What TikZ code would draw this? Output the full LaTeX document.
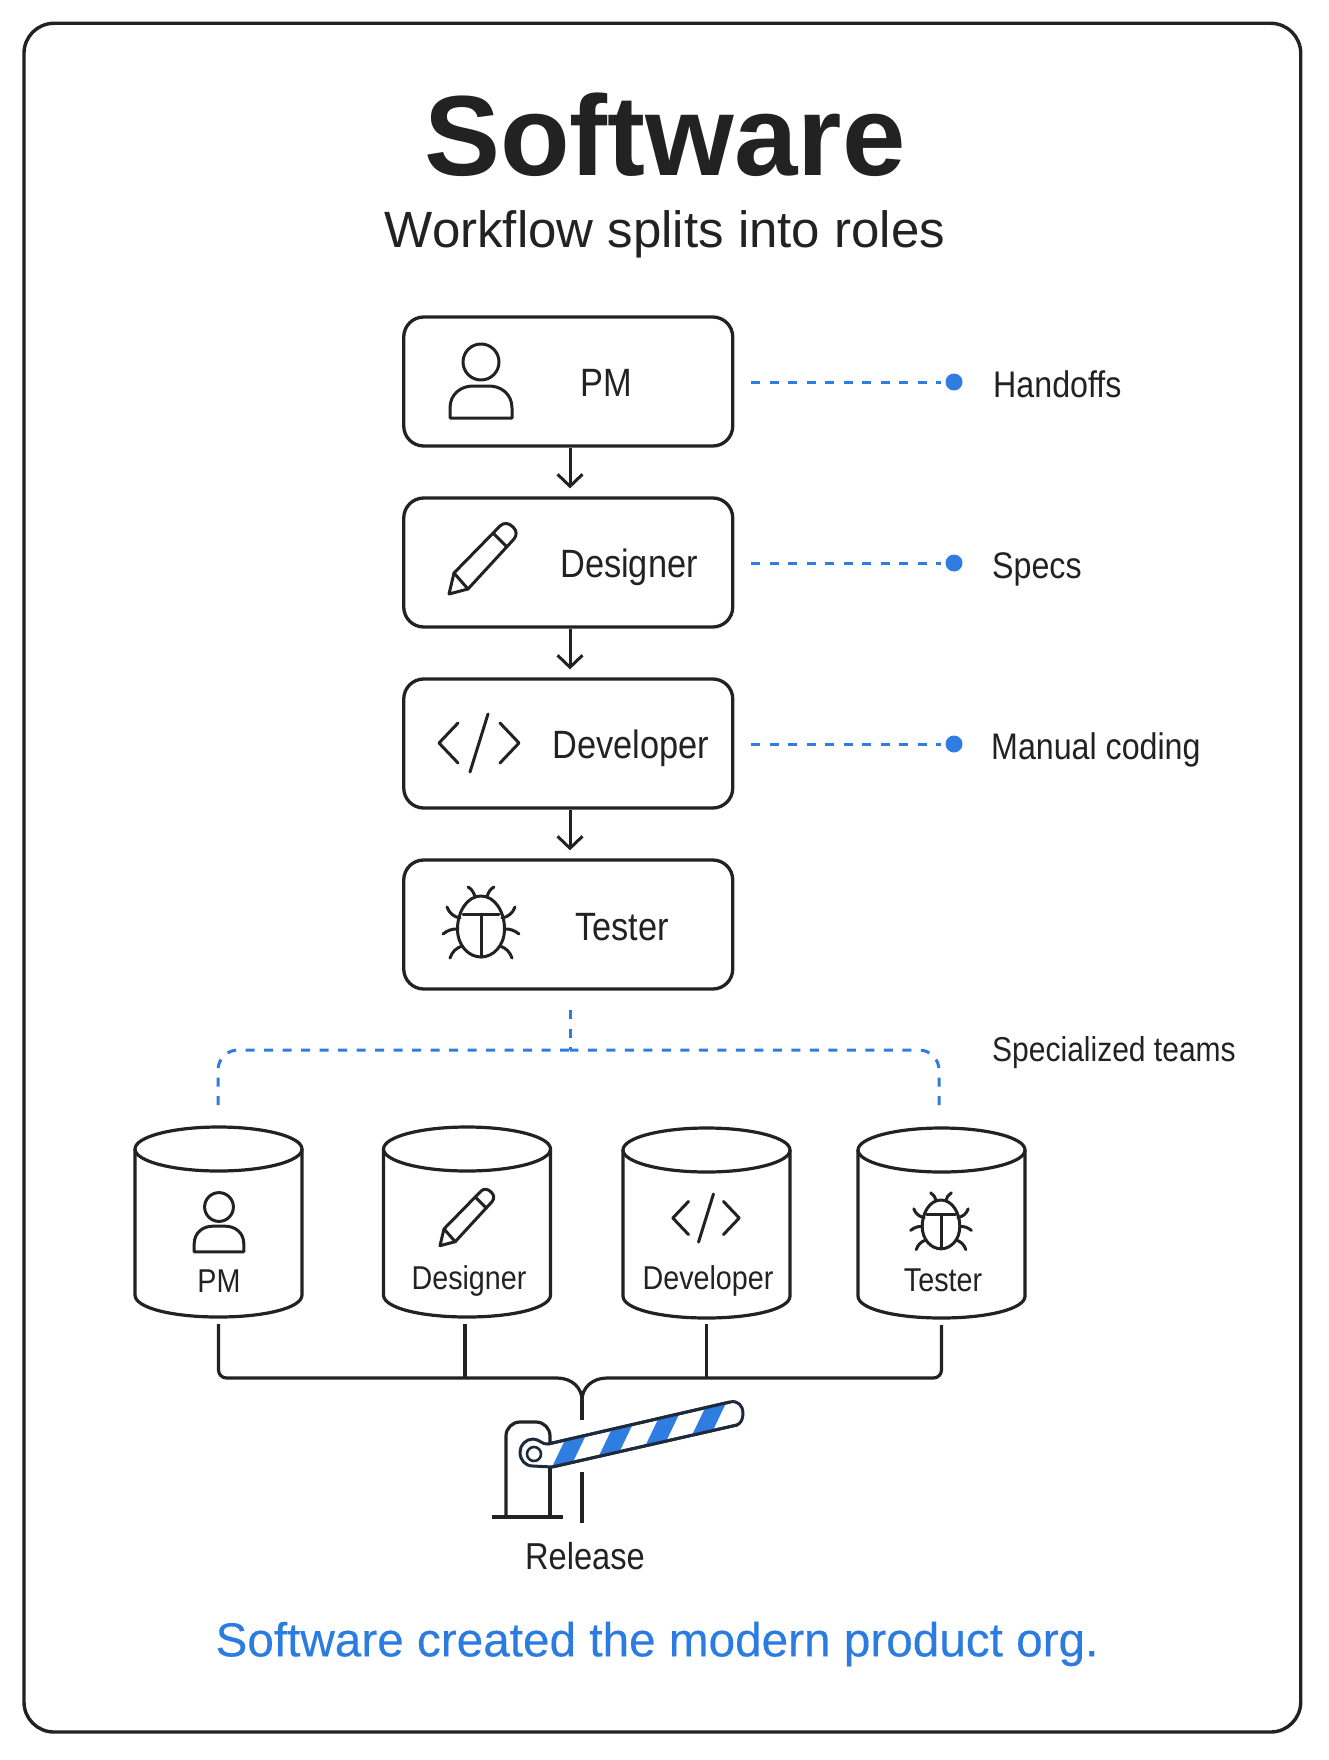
\documentclass[tikz,border=0pt]{standalone}
\usepackage{fontspec}
\setmainfont{Liberation Sans}
\newfontfamily\rotulo[FakeStretch=0.87]{Liberation Sans}
\newfontfamily\frasefonte[FakeBold=0.25]{Liberation Sans}
\usetikzlibrary{arrows.meta}
\definecolor{tinta}{HTML}{222222}
\definecolor{azul}{HTML}{2F7DE1}
\definecolor{azultexto}{HTML}{2B7BE0}
\definecolor{marinho}{HTML}{1E2A3C}
\begin{document}
\begin{tikzpicture}[
	x=1pt, y=-1pt,
	line join=round,
	every node/.style={text=tinta, inner sep=0pt},
	caixa/.style={draw=tinta, line width=3.3pt, rectangle, rounded corners=20pt, minimum width=329pt, minimum height=129pt},
	tambor/.style={rectangle, minimum width=167pt, minimum height=190pt},
	nome/.style={anchor=base, font=\rotulo\fontsize{39.5}{41}\selectfont},
	nomeb/.style={anchor=base, font=\rotulo\fontsize{33}{35}\selectfont},
	lateral/.style={anchor=base west, font=\rotulo\fontsize{37}{39}\selectfont},
	ponto/.style={circle, fill=azul, minimum size=17pt},
	seta/.style={draw=tinta, line width=3pt, shorten >=8pt, -{Straight Barb[length=12pt,width=25pt,line width=3pt]}},
	tracejado/.style={draw=azul, line width=3pt, dash pattern=on 9pt off 9.5pt},
	tubo/.style={draw=tinta, line width=3.2pt}
	]

	\tikzset{
	    icone/.style={draw=tinta, line width=3pt, line cap=round},
	    pics/lata/.style={code={
	        \draw[tubo] (0,-73) circle[x radius=83.5, y radius=22];
	        \draw[tubo] (-83.5,-73) -- (-83.5,73) .. controls (-83.5,86) and (-46,95) .. (0,95) .. controls (46,95) and (83.5,86) .. (83.5,73) -- (83.5,-73);
	    }},
	    pics/pessoa/.style={code={
	        \draw[icone] (0,-18) circle[radius=18];
	        \draw[icone] (-31,38) -- (-31,28) .. controls (-31,14) and (-20,6) .. (-8,6) -- (8,6) .. controls (20,6) and (31,14) .. (31,28) -- (31,38) -- cycle;
	    }},
	    pics/lapis/.style={code={
	        \draw[icone] (-33,34) -- (-28,13) -- (18,-34) .. controls (22,-38) and (27,-37) .. (31,-33) .. controls (35,-29) and (35,-25) .. (32,-21) -- (-14,29) -- cycle;
	        \draw[icone] (-28,13) -- (-14,29);
	        \draw[icone] (11,-27) -- (25,-13);
	    }},
	    pics/codigo/.style={code={
	        \draw[icone] (-21,-20) -- (-40,0) -- (-21,20);
	        \draw[icone] (9,-29) -- (-9,29);
	        \draw[icone] (21,-20) -- (40,0) -- (21,20);
	    }},
	    pics/inseto/.style={code={
	        \draw[icone] (0,-30) .. controls (14,-30) and (23.5,-14) .. (23.5,3) .. controls (23.5,20) and (12,31) .. (0,31) .. controls (-12,31) and (-23.5,20) .. (-23.5,3) .. controls (-23.5,-14) and (-14,-30) .. (0,-30) -- cycle;
	        \draw[icone] (-18,-12) -- (18,-12);
	        \draw[icone] (0,-12) -- (0,31);
	        \foreach \s in {-1,1} {
	            \draw[icone] (\s*13,-39) .. controls (\s*9,-37) and (\s*7,-33) .. (\s*6,-29);
	            \draw[icone] (\s*34,-19) .. controls (\s*32,-13) and (\s*27,-9) .. (\s*21,-8);
	            \draw[icone] (\s*38,8) .. controls (\s*33,4) and (\s*29,3) .. (\s*24,3);
	            \draw[icone] (\s*31,32) .. controls (\s*29,26) and (\s*25,22) .. (\s*19,20);
	        }
	    }}
	}

	\useasboundingbox (0,0) rectangle (1328,1760);

	% moldura
	\node[draw=tinta, line width=3.4pt, rectangle, rounded corners=30pt, minimum width=1276.7pt, minimum height=1708.7pt] (moldura) at (662.35,877.65) {};

	% titulos
	\node[anchor=base, font=\bfseries\fontsize{114}{116}\selectfont] (titulo) at (665,176) {Software};
	\node[anchor=base, font=\fontsize{51}{53}\selectfont] (sub) at (665,248) {Workflow splits into roles};

	% caixas da coluna
	\node[caixa] (PM) at (568.25,381.5) {};
	\node[caixa] (D) at (568.25,562.5) {};
	\node[caixa] (Dv) at (568.25,743.5) {};
	\node[caixa] (T) at (568.25,924.5) {};

	\node[nome] (nPM) at (606,396) {PM};
	\node[nome] (nD) at (629,577) {Designer};
	\node[nome] (nDv) at (631,758) {Developer};
	\node[nome] (nT) at (622,940) {Tester};

	\pic at (481,380) {pessoa};
	\pic at (482,560) {lapis};
	\pic at (479,743) {codigo};
	\pic at (481,926) {inseto};

	\draw[seta] (PM.south -| 570,0) -- (D.north -| 570,0);
	\draw[seta] (D.south -| 570,0) -- (Dv.north -| 570,0);
	\draw[seta] (Dv.south -| 570,0) -- (T.north -| 570,0);

	% notas a direita
	\foreach \n/\y/\t/\x in {a/382/Handoffs/993, b/563/Specs/992, c/744/Manual coding/991} {
	    \node[ponto] (p\n) at (954,\y) {};
	    \coordinate (c\n) at (751,\y);
	    \draw[tracejado, shorten >=4pt] (c\n) -- (p\n);
	    \node[lateral] (l\n) at (\x,\y+15) {\t};
	}

	% ramos tracejados
	\coordinate (ini) at (570,1010);
	\coordinate (meio) at (570,1050);
	\coordinate (esq) at (218,1105);
	\coordinate (dir) at (939,1105);
	\draw[tracejado] (ini) -- (meio);
	\draw[tracejado, rounded corners=20pt] (esq) |- (meio);
	\draw[tracejado, rounded corners=20pt] (dir) |- (meio);
	\node[lateral, font=\rotulo\fontsize{34.5}{36}\selectfont] (equipes) at (992,1061) {Specialized teams};

	% tambores
	\node[tambor] (PM2) at (218.5,1222) {};
	\node[tambor] (D2) at (467,1222) {};
	\node[tambor] (Dv2) at (706.5,1223) {};
	\node[tambor] (T2) at (941.5,1223) {};

	\pic at (PM2) {lata};
	\pic at (D2) {lata};
	\pic at (Dv2) {lata};
	\pic at (T2) {lata};

	\node[nomeb] (nPM2) at (219,1292) {PM};
	\node[nomeb] (nD2) at (469,1289) {Designer};
	\node[nomeb] (nDv2) at (708,1289) {Developer};
	\node[nomeb] (nT2) at (943,1291) {Tester};

	\pic[scale=.8] at (219,1221.4) {pessoa};
	\pic[scale=.8] at (466.4,1218.5) {lapis};
	\pic[scale=.83] at (706,1218) {codigo};
	\pic[scale=.8] at (941,1224) {inseto};

	% ligacoes ate a cancela
	\coordinate (juntaE) at (557,1378);
	\coordinate (juntaD) at (607,1378);
	\coordinate (junta) at (582,1400);
	\coordinate (fim) at (582,1420);
	\coordinate (fora) at (582,1472);
	\coordinate (chao) at (582,1523);
	\draw[tubo, rounded corners=8pt, shorten <=7pt] (PM2.south) |- (juntaE);
	\draw[tubo, rounded corners=8pt, shorten <=7pt] (T2.south) |- (juntaD);
	\draw[tubo, shorten <=7pt] (D2.south -| 465,0) -- (465,1378);
	\draw[tubo, shorten <=6pt] (Dv2.south) -- (Dv2.south |- juntaD);
	\draw[tubo] (juntaE) .. controls (572,1378) and (582,1388) .. (junta);
	\draw[tubo] (juntaD) .. controls (592,1378) and (582,1388) .. (junta);
	\draw[tubo] (junta) -- (fim);
	\draw[tubo] (fora) -- (chao);

	% cancela
	\draw[tubo, rounded corners=14pt] (506,1517) -- (506,1422) -- (550,1422) -- (550,1450);
	\draw[tubo] (550,1460) -- (550,1517);
	\draw[tubo] (492,1517) -- (563,1517);
	\draw[draw=marinho, line width=3pt, fill=white] (548,1444) -- (730,1402) .. controls (738,1400) and (743,1406) .. (743,1413) .. controls (743,1419) and (741,1423) .. (737,1425) -- (552,1467) -- (533,1466) .. controls (525,1466) and (520,1460) .. (520,1452) .. controls (520,1445) and (526,1439) .. (533,1439) .. controls (539,1439) and (543,1445) .. (548,1444) -- cycle;
	\foreach \i in {0,1,2,3} {
	    \fill[azul] (552+\i*46.7,1467-\i*10.7) -- (565+\i*46.7,1440-\i*10.7) -- (586+\i*46.7,1435-\i*10.7) -- (573+\i*46.7,1462-\i*10.7) -- cycle;
	}
	\draw[draw=marinho, line width=3pt] (548,1444) -- (730,1402);
	\draw[draw=marinho, line width=3pt] (737,1425) -- (552,1467);
	\draw[draw=marinho, line width=2.6pt] (534,1454) circle[radius=7];
	\node[nome, font=\rotulo\fontsize{37.5}{39}\selectfont] (nR) at (585,1569) {Release};

	% frase final
	\node[font=\frasefonte\fontsize{47.7}{49}\selectfont, text=azultexto] (frase) at (657,1644) {Software created the modern product org.};

\end{tikzpicture}
\end{document}
